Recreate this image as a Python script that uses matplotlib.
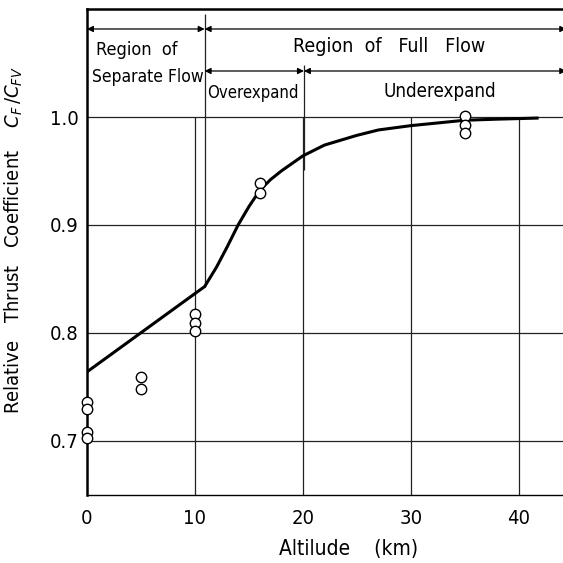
import matplotlib.pyplot as plt
import numpy as np

plt.rcParams['font.family'] = ['DejaVu Sans']
plt.rcParams['font.stretch'] = 'condensed'
plt.rcParams['mathtext.fontset'] = 'dejavusans'

# measured points (open circles)
alt_pts = [0, 0, 0, 0, 5, 5, 10, 10, 10, 16, 16, 35, 35, 35]
cf_pts = [0.736, 0.730, 0.708, 0.703, 0.759, 0.748, 0.818, 0.809, 0.802,
          0.939, 0.930, 1.001, 0.993, 0.985]

# predicted curve
alt_curve = [0, 10.9, 12, 13, 14, 15, 16, 17, 18, 20, 22, 25, 27, 30, 33, 35, 38, 41.7]
cf_curve = [0.764, 0.843, 0.861, 0.880, 0.900, 0.917, 0.932, 0.942, 0.950, 0.964,
            0.974, 0.983, 0.988, 0.992, 0.995, 0.997, 0.998, 0.999]

x_ticks = [0, 10, 20, 30, 40]
y_ticks = [0.7, 0.8, 0.9, 1.0]
x_max = 44.1

fig = plt.figure(figsize=(5.63, 5.63), dpi=100)
ax = fig.add_axes([0.1545, 0.1208, 0.8455, 0.8632])
ax.set_xlim(0, x_max)
ax.set_ylim(0.65, 1.1)

# grid (only below the 1.0 line for the vertical ones)
ax.vlines(x_ticks[1:], 0.65, 1.0, color='#222222', lw=0.9)
ax.hlines(y_ticks, 0, x_max, color='#222222', lw=0.9)

# region separators
ax.vlines(10.9, 0.843, 1.095, color='#222222', lw=0.9)
ax.vlines(20.1, 0.951, 1.048, color='#222222', lw=0.9)

ax.plot(alt_curve, cf_curve, color='black', lw=2.2, zorder=3)
ax.plot(alt_pts, cf_pts, 'o', ms=7.5, mfc='white', mec='black', mew=1.0,
        zorder=4, clip_on=False)

arrow = dict(arrowstyle='<|-|>', color='black', lw=0.9, mutation_scale=9, shrinkA=0, shrinkB=0)
ax.annotate('', xy=(0, 1.0815), xytext=(10.9, 1.0815), arrowprops=arrow)
ax.annotate('', xy=(10.9, 1.0815), xytext=(x_max + 0.3, 1.0815), arrowprops=arrow)
ax.annotate('', xy=(10.9, 1.0426), xytext=(20.1, 1.0426), arrowprops=arrow)
ax.annotate('', xy=(20.1, 1.0426), xytext=(x_max + 0.3, 1.0426), arrowprops=arrow)

ax.text(0.8, 1.062, 'Region  of', fontsize=13, ha='left', va='center')
ax.text(0.5, 1.037, 'Separate Flow', fontsize=12.5, ha='left', va='center')
ax.text(28.0, 1.065, 'Region  of   Full   Flow', fontsize=14, ha='center', va='center')
ax.text(15.4, 1.022, 'Overexpand', fontsize=12, ha='center', va='center')
ax.text(32.7, 1.024, 'Underexpand', fontsize=13.5, ha='center', va='center')

ax.set_xticks(x_ticks)
ax.set_xticklabels([str(t) for t in x_ticks])
ax.set_yticks(y_ticks)
ax.set_yticklabels(['0.7', '0.8', '0.9', '1.0'])
ax.tick_params(length=0, labelsize=14.5)
ax.tick_params(axis='x', pad=10)
ax.tick_params(axis='y', pad=6)

ax.set_xlabel('Altilude    (km)', fontsize=15)
ax.xaxis.set_label_coords(0.55, -0.09)
ax.set_ylabel(r'Relative   Thrust   Coefficient    $C_F\,/C_{FV}$', fontsize=14.5)
ax.yaxis.set_label_coords(-0.13, 0.525)

for s in ['left', 'top']:
    ax.spines[s].set_linewidth(1.8)
ax.spines['bottom'].set_linewidth(1.0)
ax.spines['right'].set_visible(False)

fig.savefig('out.png', dpi=100)
